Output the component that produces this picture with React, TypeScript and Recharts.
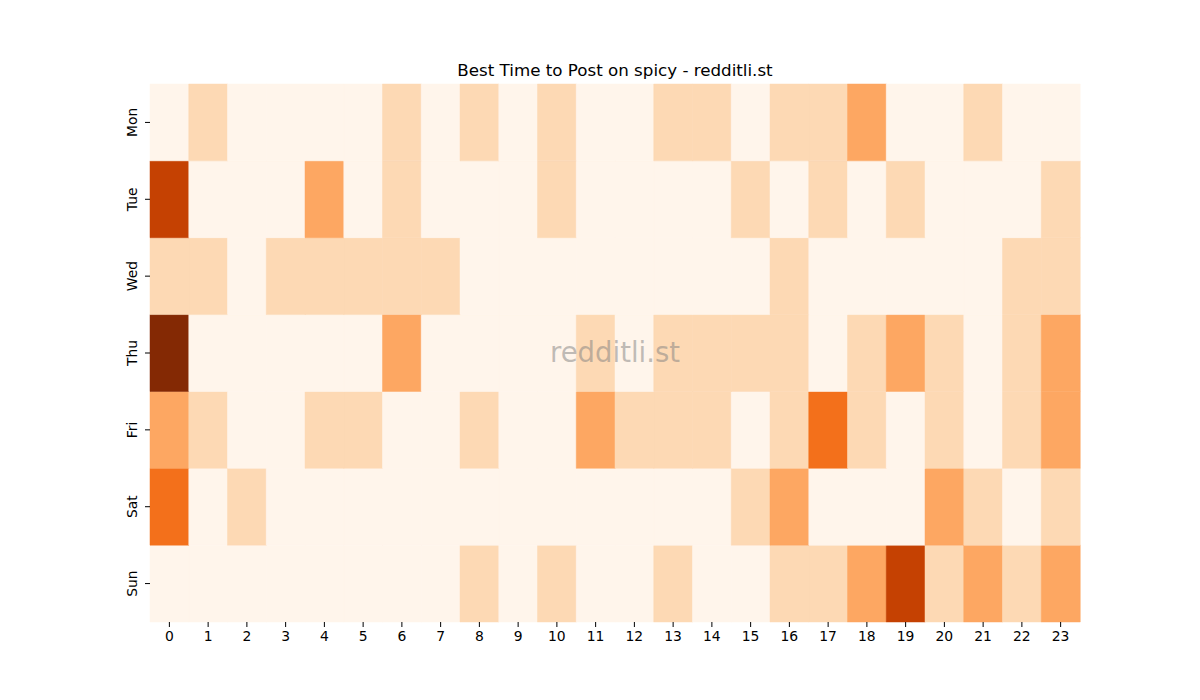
import * as React from 'react';
import { BarChart, Bar, XAxis, YAxis, Cell } from 'recharts';

const hours = Array.from({ length: 24 }, (_, i) => String(i));
const days = ['Mon', 'Tue', 'Wed', 'Thu', 'Fri', 'Sat', 'Sun'];

// activity level per hour (0 = none, 5 = most)
const mon = [0, 1, 0, 0, 0, 0, 1, 0, 1, 0, 1, 0, 0, 1, 1, 0, 1, 1, 2, 0, 0, 1, 0, 0];
const tue = [4, 0, 0, 0, 2, 0, 1, 0, 0, 0, 1, 0, 0, 0, 0, 1, 0, 1, 0, 1, 0, 0, 0, 1];
const wed = [1, 1, 0, 1, 1, 1, 1, 1, 0, 0, 0, 0, 0, 0, 0, 0, 1, 0, 0, 0, 0, 0, 1, 1];
const thu = [5, 0, 0, 0, 0, 0, 2, 0, 0, 0, 0, 1, 0, 1, 1, 1, 1, 0, 1, 2, 1, 0, 1, 2];
const fri = [2, 1, 0, 0, 1, 1, 0, 0, 1, 0, 0, 2, 1, 1, 1, 0, 1, 3, 1, 0, 1, 0, 1, 2];
const sat = [3, 0, 1, 0, 0, 0, 0, 0, 0, 0, 0, 0, 0, 0, 0, 1, 2, 0, 0, 0, 2, 1, 0, 1];
const sun = [0, 0, 0, 0, 0, 0, 0, 0, 1, 0, 1, 0, 0, 1, 0, 0, 1, 1, 2, 4, 1, 2, 1, 2];

const levels: Record<string, number[]> = {
  Mon: mon,
  Tue: tue,
  Wed: wed,
  Thu: thu,
  Fri: fri,
  Sat: sat,
  Sun: sun,
};

const palette = ['#fff5eb', '#fdd9b4', '#fda762', '#f3701b', '#c54102', '#842904'];

// every cell is one unit tall, stacked Sun (bottom) .. Mon (top)
const rows = hours.map((h) => {
  const row: Record<string, string | number> = { hour: h };
  days.forEach((d) => {
    row[d] = 1;
  });
  return row;
});

const yTicks = [0.5, 1.5, 2.5, 3.5, 4.5, 5.5, 6.5];
const font = "'DejaVu Sans', sans-serif";

function DayTick({ x, y, payload }: any) {
  const label = days[6 - Math.floor(payload.value)];
  return (
    <g transform={`translate(${x - 6},${y})`}>
      <text transform="rotate(-90)" textAnchor="middle" fill="#000" fontSize={13.9} fontFamily={font}>
        {label}
      </text>
    </g>
  );
}

export default function App() {
  const stackOrder = [...days].reverse();
  return (
    <div style={{ position: 'absolute', left: 0, top: 0, width: 1200, height: 700, background: '#fff', fontFamily: font }}>
      <div
        style={{
          position: 'absolute',
          left: 150,
          width: 930,
          top: 59,
          height: 22,
          lineHeight: '22px',
          textAlign: 'center',
          fontSize: 16.7,
          color: '#000',
        }}
      >
        Best Time to Post on spicy - redditli.st
      </div>
      <BarChart
        width={1200}
        height={700}
        data={rows}
        barCategoryGap={0}
        margin={{ top: 84, right: 120, left: 100, bottom: 48 }}
      >
        <XAxis
          dataKey="hour"
          height={30}
          axisLine={false}
          tickLine={{ stroke: '#000' }}
          tickSize={5}
          tickMargin={4}
          interval={0}
          tick={{ fill: '#000', fontSize: 13.9, fontFamily: font }}
        />
        <YAxis
          type="number"
          domain={[0, 7]}
          ticks={yTicks}
          width={50}
          axisLine={false}
          tickLine={{ stroke: '#000' }}
          tickSize={5}
          tick={<DayTick />}
        />
        {stackOrder.map((d) => (
          <Bar key={d} dataKey={d} stackId="cells" isAnimationActive={false}>
            {levels[d].map((lv, i) => (
              <Cell key={i} fill={palette[lv]} stroke={palette[lv]} strokeWidth={0.5} />
            ))}
          </Bar>
        ))}
      </BarChart>
      <div
        style={{
          position: 'absolute',
          left: 150,
          width: 930,
          top: 335,
          height: 34,
          lineHeight: '34px',
          textAlign: 'center',
          fontSize: 27.5,
          color: 'rgba(128,128,128,0.5)',
          pointerEvents: 'none',
        }}
      >
        redditli.st
      </div>
    </div>
  );
}
